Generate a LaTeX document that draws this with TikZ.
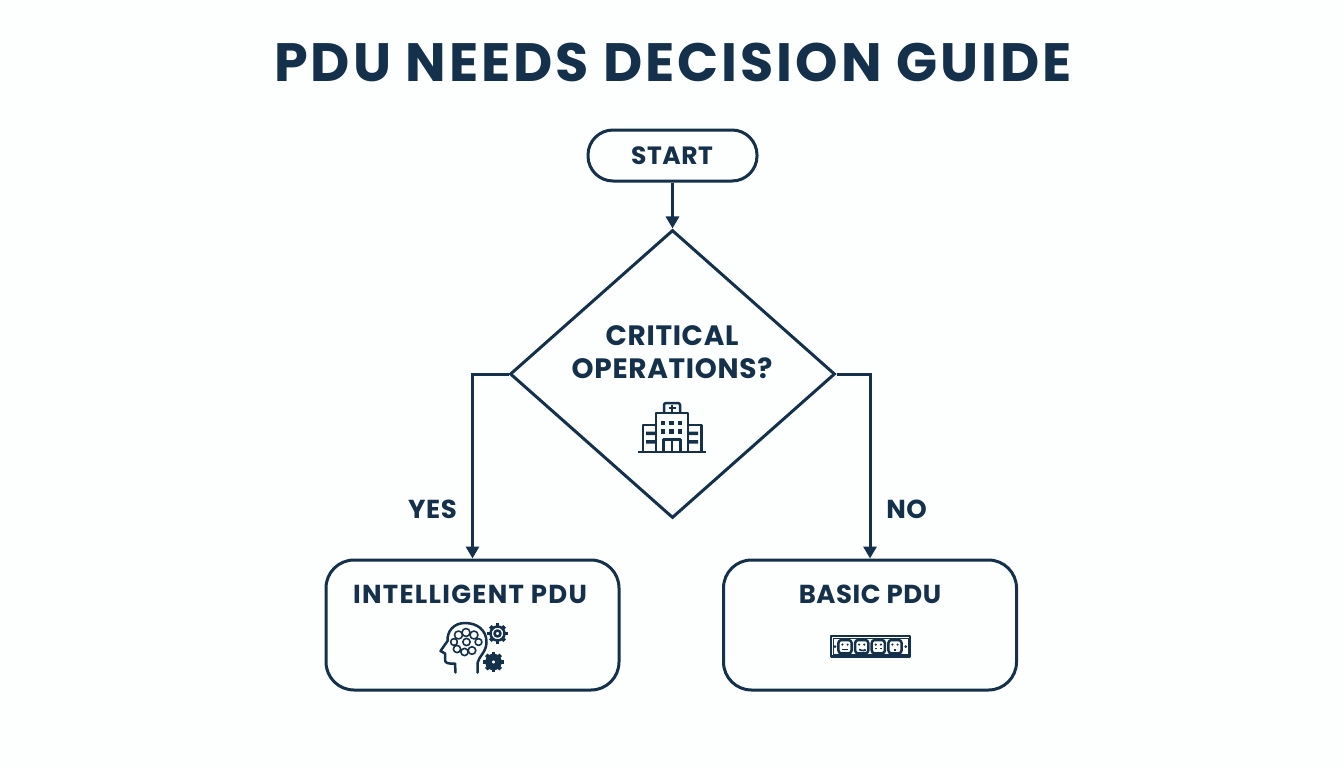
\documentclass[tikz,border=0pt]{standalone}
\usepackage{fontspec}
\setmainfont{Poppins}
\usetikzlibrary{arrows.meta,shapes.geometric}
\definecolor{navy}{HTML}{14304A}
\definecolor{paper}{HTML}{FDFEFE}
\newcommand{\spaced}[2]{\bfseries\fontsize{#1}{33}\selectfont\addfontfeature{LetterSpace=#2}}
\tikzset{
  flow/.style={draw=navy,line width=3pt,fill=none},
  pill/.style={flow,rectangle,rounded corners=25pt,minimum width=169pt,minimum height=51pt,inner sep=0pt},
  choice/.style={flow,diamond,minimum width=325pt,minimum height=288pt,inner sep=0pt},
  result/.style={flow,rectangle,rounded corners=28pt,minimum width=293pt,minimum height=130pt,inner sep=0pt},
  words/.style={text=navy,font=\spaced{26}{2},inner sep=0pt,align=center},
  link/.style={draw=navy,line width=3pt,-{Triangle[width=13pt,length=12pt]}},
  icon/.style={draw=navy,line width=2.5pt,line join=round},
  thin icon/.style={draw=navy,line width=1.6pt,line join=round},
}
\newcommand{\gearicon}[3]{% centre x, centre y, fill
  \foreach \a in {0,45,...,315}
    \draw[navy,line width=3.6pt] (#1,#2) ++(\a:7) -- ++(\a:3.2);
  \draw[icon,fill=#3] (#1,#2) circle (7);
  \draw[icon,fill=paper] (#1,#2) circle (3);
}
\newcommand{\socket}[2]{% centre x, kind of face
  \draw[icon,rounded corners=3pt] (#1-6.6,640) rectangle (#1+6.6,653.4);
  \fill[navy] (#1-2.6,644.6) circle (1.2) (#1+2.6,644.6) circle (1.2);
  \draw[thin icon] (#1-2.6,649.4) #2;
}
\begin{document}
\begin{tikzpicture}[x=1pt,y=-1pt]
\useasboundingbox[fill=paper] (0,0) rectangle (1344,768);

\node[words,font=\spaced{54}{5.5}] (title) at (673,62) {PDU NEEDS DECISION GUIDE};

\node[pill] (start) at (672.5,155.5) {};
\node[words,font=\spaced{25}{2}] (starttext) at (672,156) {START};
\node[choice] (critical) at (672.5,374) {};
\node[words,font=\spaced{28}{2.5}] (criticaltext) at (672,352) {CRITICAL\\OPERATIONS?};
\node[result] (intelligent) at (472.5,625) {};
\node[words,font=\spaced{26}{5}] (intelligenttext) at (470,594) {INTELLIGENT PDU};
\node[result] (basic) at (870,625) {};
\node[words] (basictext) at (870,594) {BASIC PDU};
\node[words] (yes) at (432.5,509) {YES};
\node[words] (no) at (906.5,509) {NO};

\draw[link] (start) -- (critical);
\draw[link] (critical.west) -| (intelligent.north);
\draw[link] (critical.east) -| (basic.north);

% hospital
\draw[icon] (637.5,452) -- (706,452);
\draw[icon] (656,452) -- (656,413) -- (688,413) -- (688,452);
\draw[icon] (656,425) -- (643,425) -- (643,452);
\draw[icon] (688,425) -- (701.5,425) -- (701.5,452);
\draw[icon,rounded corners=2pt] (664,413) -- (664,403) -- (680,403) -- (680,413);
\draw[navy,line width=2.5pt] (672,404.5) -- (672,411.5) (668.5,408) -- (675.5,408);
\foreach \x in {663,671.5,680}
  \foreach \y in {423,431.5}
    \fill[navy] (\x-2.4,\y-2.4) rectangle (\x+2.4,\y+2.4);
\draw[icon] (663.5,452) -- (663.5,439.5) -- (680.5,439.5) -- (680.5,452) (672,439.5) -- (672,452);
\fill[navy] (646,431.5) rectangle (656,435) (646,440) rectangle (656,443.5);
\fill[navy] (688,431.5) rectangle (698,435) (688,440) rectangle (698,443.5);

% head and brain
\draw[icon,line cap=round] (477.5,672.5) -- (477.5,663)
  .. controls (479,656) and (486.5,652) .. (486.5,642)
  .. controls (486.5,630) and (477,623) .. (465,623)
  .. controls (453,623) and (447,632) .. (447.5,641)
  -- (440.5,651) -- (445,653.5) -- (445,660)
  .. controls (445,663) and (448,664) .. (455,663.5) -- (455.5,672.5);
\foreach \x/\y/\r in {458.5/635/4,466/632.5/4,474/635/4,478.5/642/3.4,454/642/3.4,457/649/3.6,464.5/652/3.6,472/650.5/3.8,466.5/642/3.6}
  \draw[thin icon] (\x,\y) circle (\r);

% gears
\gearicon{497.5}{633.5}{paper}
\gearicon{493.5}{662}{navy}

% power strip
\draw[icon] (831,636) rectangle (910,656.5);
\draw[navy,line width=0.5pt] (833,638) rectangle (908,654.5);
\fill[navy] (835,646.7) circle (1.5) (905.7,646.7) circle (1.5);
\socket{845}{-- ++(5.2,0)}
\socket{861.7}{.. controls ++(1.5,1.5) and ++(3.7,1.5) .. ++(5.2,0)}
\socket{878.3}{-- ++(0,-1) ++(5.2,0) -- ++(0,1)}
\socket{895}{++(2.6,0) -- ++(0,1.4)}
\end{tikzpicture}
\end{document}
